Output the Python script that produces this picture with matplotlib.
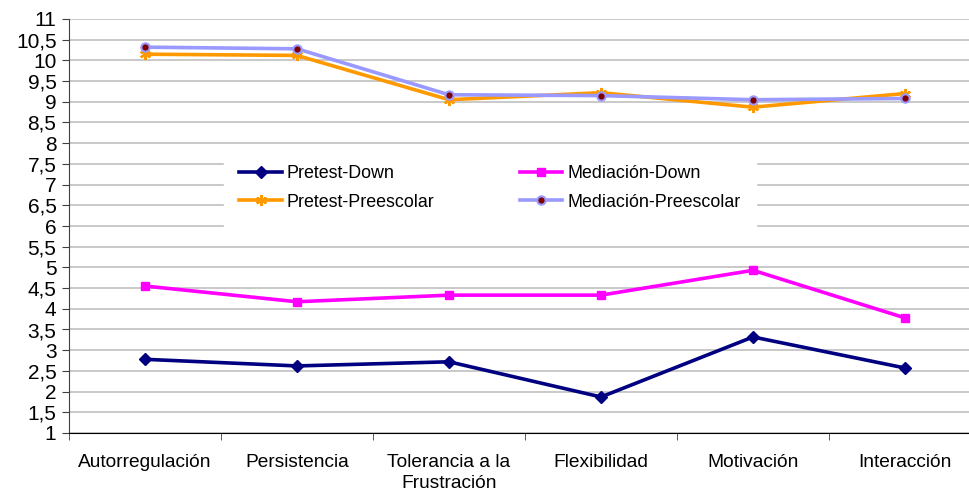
import matplotlib
matplotlib.use("Agg")
from matplotlib import pyplot as plt
from matplotlib.ticker import FixedLocator, NullFormatter

categories = ["Autorregulación", "Persistencia", "Tolerancia a la\nFrustración",
              "Flexibilidad", "Motivación", "Interacción"]
pretest_down = [2.78, 2.62, 2.72, 1.87, 3.32, 2.57]
mediacion_down = [4.55, 4.17, 4.33, 4.33, 4.93, 3.78]
pretest_pre = [10.15, 10.12, 9.05, 9.22, 8.87, 9.20]
mediacion_pre = [10.32, 10.28, 9.17, 9.15, 9.05, 9.08]
yticks = [1, 1.5, 2, 2.5, 3, 3.5, 4, 4.5, 5, 5.5, 6, 6.5, 7, 7.5, 8, 8.5, 9, 9.5, 10, 10.5, 11]

plt.rcParams['font.family'] = ['Liberation Sans', 'DejaVu Sans']

W, H = 969, 493
fig = plt.figure(figsize=(W / 100, H / 100), dpi=100)
ax = fig.add_axes([69 / W, (H - 433) / H, 912 / W, 414 / H])

x = list(range(len(categories)))
l1, = ax.plot(x, pretest_down, color='#000080', lw=2.6, marker='D', ms=6, zorder=3)
l2, = ax.plot(x, mediacion_down, color='#ff00ff', lw=2.6, marker='s', ms=6, zorder=3)
l3, = ax.plot(x, pretest_pre, color='#ff9900', lw=2.6, marker=(6, 2, 0), ms=8,
              mew=1.6, zorder=3)
l4, = ax.plot(x, mediacion_pre, color='#9999ff', lw=2.6, marker='o', ms=6,
              mfc='#800000', mec='#9999ff', mew=1.5, zorder=4)

ax.set_xlim(-0.5, len(categories) - 0.5)
ax.set_ylim(1, 11)
ax.set_yticks(yticks)
ax.set_yticklabels([f"{v:g}".replace('.', ',') for v in yticks], fontsize=15)
ax.yaxis.grid(True, color='#c0c0c0', lw=1.2)
ax.set_axisbelow(True)

ax.set_xticks(x)
ax.set_xticklabels(categories, fontsize=13.8, linespacing=1.3)
ax.tick_params(axis='x', length=0, pad=15)
ax.xaxis.set_minor_locator(FixedLocator([i - 0.5 for i in range(len(categories) + 1)]))
ax.xaxis.set_minor_formatter(NullFormatter())
ax.tick_params(axis='x', which='minor', length=5, color='#404040')
ax.tick_params(axis='y', length=5, color='#404040', pad=4)

for s in ['top', 'right']:
    ax.spines[s].set_visible(False)
ax.spines['left'].set_color('#404040')
ax.spines['bottom'].set_color('#000000')

leg = fig.legend([l1, l3, l2, l4],
                 ["Pretest-Down", "Pretest-Preescolar", "Mediación-Down", "Mediación-Preescolar"],
                 ncol=2, loc='center', bbox_to_anchor=(490 / W, 1 - 188 / H),
                 frameon=True, fancybox=False, edgecolor='white', framealpha=1,
                 fontsize=12.9, handlelength=2.35, columnspacing=4.75, labelspacing=0.62,
                 handletextpad=0.3, borderpad=0.6, borderaxespad=0)
leg.get_frame().set_boxstyle('square', pad=0.25)

fig.savefig("out.png", dpi=100)
